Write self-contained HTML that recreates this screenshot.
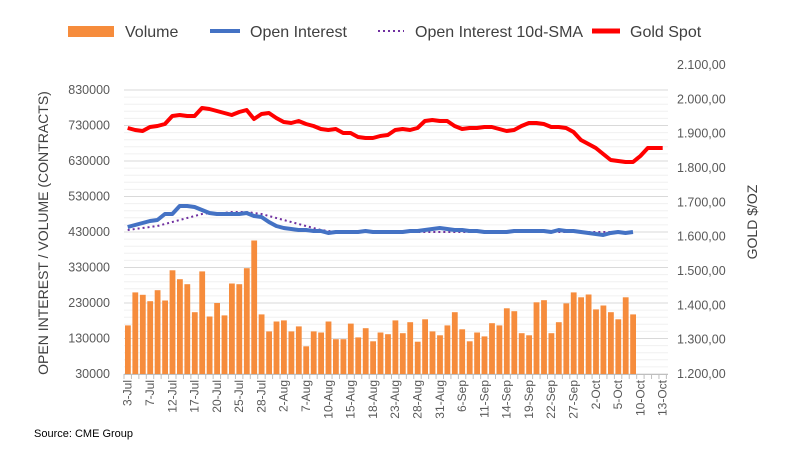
<!DOCTYPE html>
<html><head><meta charset="utf-8"><style>
body{margin:0;background:#fff;}
svg{display:block;font-family:"Liberation Sans",sans-serif;}
</style></head><body>
<svg id="c" width="789" height="469" xmlns="http://www.w3.org/2000/svg"></svg>
<script>
const s=document.getElementById('c');let h='';
const X0=124,P=7.43,YB=374,PX=35.5/100000;
const yl=v=>YB-(v-30000)*PX;
for(let i=0;i<=40;i++){const y=YB-i*7.1;h+=`<line x1="${X0}" x2="668" y1="${y}" y2="${y}" stroke="${i%5==0?'#d9d9d9':'#f0f0f0'}" stroke-width="1"/>`;}
for(let i=0;i<=8;i++){const v=30000+i*100000;h+=`<text x="110" y="${yl(v)+4}" font-size="12.5" fill="#595959" text-anchor="end">${v}</text>`;}
for(let i=0;i<=9;i++){const v=1200+i*100;const y=374-i*34.33;h+=`<text x="677" y="${y+4}" font-size="12.5" fill="#595959">${(v/1000|0).toString()}.${String(v%1000).padStart(3,'0')},00</text>`;}
const vol=[167,260,253,235,266,237,322,297,283,204,319,192,230,195,285,283,328,406,198,150,178,181,150,164,108,150,147,178,128,128,172,133,159,122,147,142,181,145,176,121,184,150,139,167,204,156,122,147,136,173,167,215,207,145,139,232,238,145,176,229,260,246,254,212,223,204,184,246,198];
vol.forEach((v,i)=>{const x=X0+i*P+1;const y=yl(v*1000);h+=`<rect x="${x.toFixed(1)}" y="${y.toFixed(1)}" width="5.8" height="${(YB-y).toFixed(1)}" fill="#f68c3c"/>`;});
h+=`<line x1="${X0}" x2="668" y1="${YB+0.5}" y2="${YB+0.5}" stroke="#bfbfbf"/>`;
for(let i=0;i<=73;i++){const x=X0+i*P;h+=`<line x1="${x}" x2="${x}" y1="${YB}" y2="${YB+5}" stroke="#bfbfbf"/>`;}
const labs=['3-Jul','7-Jul','12-Jul','17-Jul','20-Jul','25-Jul','28-Jul','2-Aug','7-Aug','10-Aug','15-Aug','18-Aug','23-Aug','28-Aug','31-Aug','6-Sep','11-Sep','14-Sep','19-Sep','22-Sep','27-Sep','2-Oct','5-Oct','10-Oct','13-Oct'];
labs.forEach((l,i)=>{const x=X0+i*3*P+P/2+4;h+=`<text transform="translate(${x.toFixed(1)},${YB+6}) rotate(-90)" font-size="12" fill="#595959" text-anchor="end">${l}</text>`;});
const cx=i=>(X0+i*P+P/2).toFixed(1);
const pl=(a,st,w,extra='')=>`<polyline fill="none" stroke="${st}" stroke-width="${w}" stroke-linejoin="round" ${extra} points="${a.map((y,i)=>cx(i)+','+y).join(' ')}"/>`;
const sma=[230,229,228,227,226,224,222,220,218,216,214,213,213,213,212,212,212,213,214,216,218,220,222,224,226,228,230,231,232,232,232,232,232,232,232,232,232,232,232,232,232,232,232,232,232,232,232,232,232,232,232,232,232,232,232,232,232,232,232,232,232,232,232,232,232,232,232,232,232];
h+=pl(sma,'#7030a0',2,'stroke-dasharray="2,3"');
const oi=[227,225,223,221,220,214,214,206,206,207,210,213,214,214,214,214,213,216,217,222,226,228,229,230,230,231,231,233,232,232,232,232,231,232,232,232,232,232,231,231,230,229,228,229,230,230,231,231,232,232,232,232,231,231,231,231,231,232,230,231,231,232,233,234,235,233,232,233,232,233,232,232,232];
h+=pl(oi.slice(0,69),'#4472c4',4);
const gold=[128,130,131,127,126,124,116,115,116,116,108,109,111,113,115,112,110,119,114,113,118,122,123,121,124,126,129,130,129,133,133,137,138,138,136,135,130,129,130,128,121,120,121,121,126,129,128,128,127,127,129,131,130,126,123,123,124,127,127,128,132,140,144,148,154,160,161,162,162,156,148,148,148];
h+=pl(gold,'#ff0000',4);
h+=`<text transform="translate(48,233) rotate(-90)" font-size="14" fill="#404040" text-anchor="middle">OPEN INTEREST / VOLUME (CONTRACTS)</text>`;
h+=`<text transform="translate(757,222) rotate(-90)" font-size="14" fill="#404040" text-anchor="middle">GOLD $/OZ</text>`;
h+=`<rect x="68" y="26" width="46" height="11" fill="#f68c3c"/><text x="125" y="37" font-size="16" fill="#404040">Volume</text>`;
h+=`<line x1="210" x2="240" y1="31" y2="31" stroke="#4472c4" stroke-width="4"/><text x="250" y="37" font-size="16" fill="#404040">Open Interest</text>`;
h+=`<line x1="378" x2="404" y1="31" y2="31" stroke="#7030a0" stroke-width="2" stroke-dasharray="2,3"/><text x="415" y="37" font-size="16" fill="#404040">Open Interest 10d-SMA</text>`;
h+=`<line x1="592" x2="620" y1="31" y2="31" stroke="#ff0000" stroke-width="5"/><text x="630" y="37" font-size="16" fill="#404040">Gold Spot</text>`;
h+=`<text x="34" y="437" font-size="11" fill="#000">Source: CME Group</text>`;
s.innerHTML=h;
</script>
</body></html>
